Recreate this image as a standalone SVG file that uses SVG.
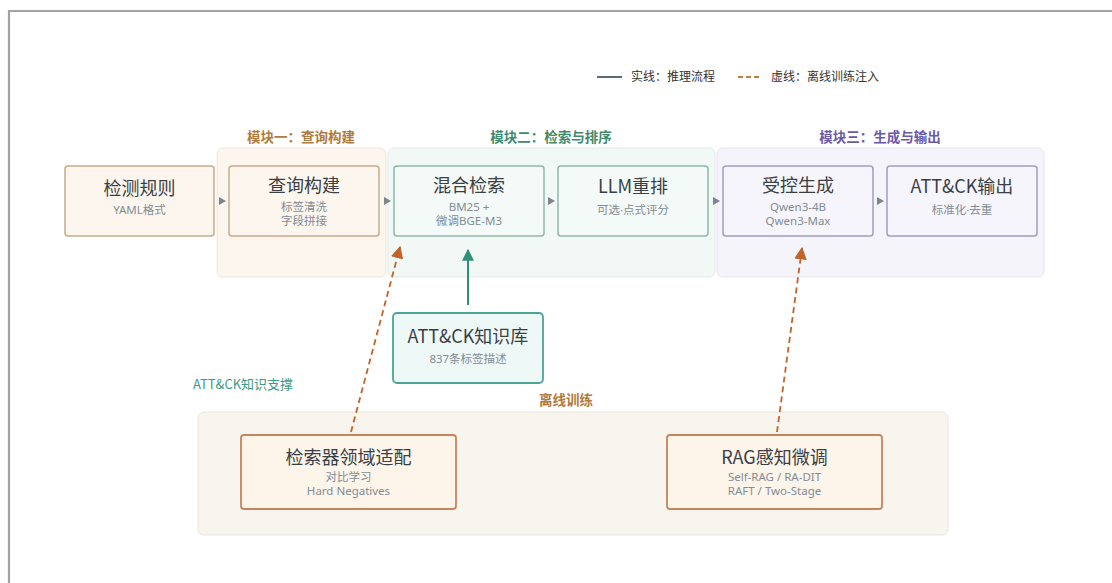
<svg xmlns="http://www.w3.org/2000/svg" width="1112" height="583" viewBox="0 0 1112 583">
<defs>
<style>
text{font-family:"Noto Sans CJK SC","Noto Sans",sans-serif;text-anchor:middle}
.t{font-size:18px;fill:#3a3f45}
.s{font-size:11.5px;fill:#838c95;font-family:"Noto Sans","Noto Sans CJK SC",sans-serif}
.ml{font-size:13.5px;font-weight:bold}
.nO{fill:#fdf6ee;stroke:#c9ab8c;stroke-width:1.5}
.nG{fill:#f3faf7;stroke:#8fb8a8;stroke-width:1.5}
.nP{fill:#f6f5fc;stroke:#a29cc4;stroke-width:1.5}
.nT{fill:#eef8f6;stroke:#4aa597;stroke-width:1.8}
.nF{fill:#fdf4ea;stroke:#c8845a;stroke-width:1.8}
.flow{fill:#7a8590}
.dash{stroke:#c0642a;stroke-width:1.8;stroke-dasharray:6,4;fill:none}
</style>
<marker id="ao" viewBox="0 0 10 10" refX="9" refY="5" markerWidth="7" markerHeight="7" orient="auto"><path d="M0,0 L10,5 L0,10 z" fill="#c0642a"/></marker>
<marker id="ag" viewBox="0 0 10 10" refX="9" refY="5" markerWidth="6" markerHeight="6" orient="auto"><path d="M0,0 L10,5 L0,10 z" fill="#2f8f7a"/></marker>
</defs>
<rect width="1112" height="583" fill="#ffffff"/>
<path d="M9,583 V11 H1112" fill="none" stroke="#a3a3a3" stroke-width="2.2"/>

<g id="legend">
<line x1="597" y1="77" x2="622" y2="77" stroke="#5a6a7a" stroke-width="2"/>
<text x="673" y="81" style="font-size:12px;fill:#333">实线：推理流程</text>
<line x1="738" y1="77" x2="762" y2="77" stroke="#c0803a" stroke-width="2" stroke-dasharray="5,3"/>
<text x="825" y="81" style="font-size:12px;fill:#333">虚线：离线训练注入</text>
</g>

<g id="module1">
<rect x="217" y="148" width="169" height="129" rx="6" fill="#fcf6ef" stroke="#efe6dc"/>
<text class="ml" x="301" y="142" fill="#b07a40">模块一：查询构建</text>
</g>
<g id="module2">
<rect x="388" y="148" width="327" height="129" rx="6" fill="#f2f8f5" stroke="#e0ece6"/>
<text class="ml" x="551" y="142" fill="#3f8a6a">模块二：检索与排序</text>
</g>
<g id="module3">
<rect x="717" y="148" width="327" height="129" rx="6" fill="#f5f4fb" stroke="#e6e4f0"/>
<text class="ml" x="880" y="142" fill="#6a5aa8">模块三：生成与输出</text>
</g>
<g id="offline">
<rect x="198" y="412" width="750" height="123" rx="6" fill="#f8f5ef" stroke="#ebe6dc"/>
<text class="ml" x="566" y="405" fill="#b07a40">离线训练</text>
</g>

<g id="n1"><rect class="nO" x="65" y="166" width="149" height="70" rx="3"/>
<text class="t" x="139.5" y="195">检测规则</text><text class="s" x="139.5" y="214">YAML格式</text></g>
<g id="n2"><rect class="nO" x="229" y="166" width="150" height="70" rx="3"/>
<text class="t" x="304" y="192">查询构建</text><text class="s" x="304" y="211">标签清洗</text><text class="s" x="304" y="225">字段拼接</text></g>
<g id="n3"><rect class="nG" x="394" y="166" width="150" height="70" rx="3"/>
<text class="t" x="469" y="192">混合检索</text><text class="s" x="469" y="211">BM25 +</text><text class="s" x="469" y="225">微调BGE-M3</text></g>
<g id="n4"><rect class="nG" x="558" y="166" width="150" height="70" rx="3"/>
<text class="t" x="633" y="193">LLM重排</text><text class="s" x="633" y="214">可选·点式评分</text></g>
<g id="n5"><rect class="nP" x="723" y="166" width="150" height="70" rx="3"/>
<text class="t" x="798" y="192">受控生成</text><text class="s" x="798" y="211">Qwen3-4B</text><text class="s" x="798" y="225">Qwen3-Max</text></g>
<g id="n6"><rect class="nP" x="887" y="166" width="150" height="70" rx="3"/>
<text class="t" x="962" y="193">ATT&amp;CK输出</text><text class="s" x="962" y="214">标准化·去重</text></g>
<g id="kb"><rect class="nT" x="393" y="313" width="150" height="70" rx="4"/>
<text class="t" x="468" y="343">ATT&amp;CK知识库</text><text class="s" x="468" y="363">837条标签描述</text></g>
<g id="f1"><rect class="nF" x="241" y="435" width="215" height="74" rx="3"/>
<text class="t" x="348.5" y="464">检索器领域适配</text><text class="s" x="348.5" y="481">对比学习</text><text class="s" x="348.5" y="495">Hard Negatives</text></g>
<g id="f2"><rect class="nF" x="667" y="435" width="215" height="74" rx="3"/>
<text class="t" x="774.5" y="464">RAG感知微调</text><text class="s" x="774.5" y="481">Self-RAG / RA-DIT</text><text class="s" x="774.5" y="495">RAFT / Two-Stage</text></g>

<text x="243" y="389" style="font-size:13px;fill:#3f9a88">ATT&amp;CK知识支撑</text>

<g id="connectors">
<path class="flow" d="M219,197 L226,201 L219,205 z"/>
<path class="flow" d="M384,197 L391,201 L384,205 z"/>
<path class="flow" d="M548,197 L555,201 L548,205 z"/>
<path class="flow" d="M713,197 L720,201 L713,205 z"/>
<path class="flow" d="M877,197 L884,201 L877,205 z"/>
<line x1="468" y1="305" x2="468" y2="250" stroke="#2f8f7a" stroke-width="2" marker-end="url(#ag)"/>
<line class="dash" x1="351" y1="432" x2="400" y2="247" marker-end="url(#ao)"/>
<line class="dash" x1="777" y1="432" x2="802" y2="248" marker-end="url(#ao)"/>
</g>
</svg>
